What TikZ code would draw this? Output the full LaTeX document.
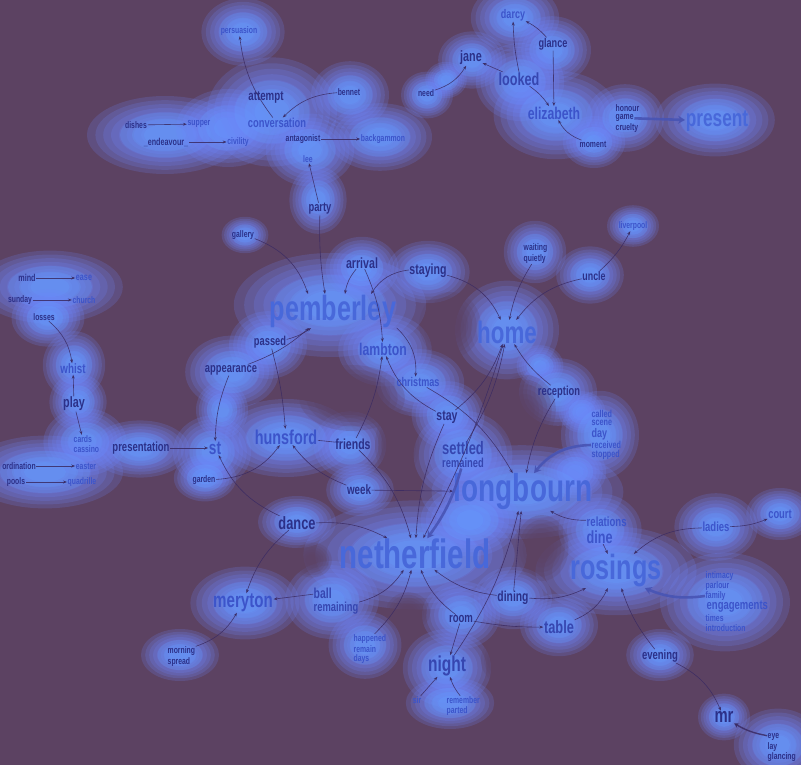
\documentclass[tikz,border=0pt]{standalone}
\usepackage{fontspec}
\newfontfamily\cf[FakeStretch=0.72]{Liberation Sans}
\usetikzlibrary{arrows.meta}
\definecolor{bgc}{RGB}{92,66,98}
\definecolor{glowA}{RGB}{110,134,252}
\definecolor{glowB}{RGB}{98,162,255}
\definecolor{cdark}{RGB}{44,48,136}
\definecolor{cmid}{RGB}{54,70,176}
\definecolor{clight}{RGB}{60,84,202}
\definecolor{cbig}{RGB}{72,104,218}
\definecolor{edgec}{RGB}{58,42,98}
\definecolor{thickc}{RGB}{72,84,180}
\newcommand\wz[1]{\fontsize{#1}{#1}\selectfont}
\newcommand\glw[4]{%
  \foreach \f in {1.3,1.16,1.03,0.9,0.77,0.64,0.52,0.4}{%
    \fill[glowA,opacity=.2] (#1,#2) ellipse [x radius={\f*#3pt}, y radius={\f*#4pt}];}%
  \foreach \f in {0.75,0.55,0.35}{%
    \fill[glowB,opacity=.22] (#1,#2) ellipse [x radius={\f*#3pt}, y radius={\f*#4pt}];}}
\newcommand\hol[4]{%
  \foreach \f in {1.1,0.95,0.8,0.65,0.5,0.35}{%
    \fill[bgc,opacity=.22] (#1,#2) ellipse [x radius={\f*#3pt}, y radius={\f*#4pt}];}}
\tikzset{
  wd/.style={text=cdark, inner sep=0.5pt, font=\cf\bfseries},
  wm/.style={text=cmid, inner sep=0.5pt, font=\cf\bfseries},
  wl/.style={text=clight, inner sep=0.5pt, font=\cf\bfseries},
  wb/.style={text=cbig, inner sep=0.5pt, font=\cf\bfseries},
  ed/.style={draw=edgec, draw opacity=.85, line width=0.6pt, -{Stealth[length=4pt,width=3pt]}},
  el/.style={draw=edgec, draw opacity=.85, line width=0.6pt},
  et/.style={draw=thickc, draw opacity=.9, line width=2.6pt, -{Stealth[length=7pt,width=8pt]}},
  et2/.style={draw=edgec, draw opacity=.85, line width=1.4pt, -{Stealth[length=5pt,width=5pt]}}
}
\begin{document}
\begin{tikzpicture}[x=1pt,y=-1pt]
\useasboundingbox (0,0) rectangle (801,765);
\fill[bgc] (0,0) rectangle (801,765);
% ---------- glow ----------
\glw{243}{32}{32}{26}
\glw{165}{135}{60}{30}
\glw{228}{128}{40}{30}
\glw{272}{112}{50}{42}
\glw{350}{95}{30}{26}
\glw{380}{137}{40}{26}
\glw{310}{150}{34}{28}
\glw{318}{200}{22}{26}
\glw{515}{18}{34}{26}
\glw{552}{50}{30}{26}
\glw{472}{60}{26}{22}
\glw{520}{82}{34}{30}
\glw{427}{95}{20}{18}
\glw{446}{80}{16}{14}
\glw{556}{115}{48}{34}
\glw{594}{142}{24}{20}
\glw{625}{118}{30}{26}
\glw{715}{120}{46}{28}
\glw{245}{235}{18}{14}
\glw{633}{226}{20}{16}
\glw{535}{252}{24}{24}
\glw{590}{275}{26}{22}
\glw{50}{287}{56}{28}
\glw{48}{318}{28}{22}
\glw{74}{365}{24}{26}
\glw{78}{402}{22}{22}
\glw{85}{442}{32}{26}
\glw{45}{472}{60}{28}
\glw{140}{449}{38}{22}
\glw{212}{452}{30}{28}
\glw{205}{478}{24}{18}
\glw{222}{410}{20}{22}
\glw{330}{305}{74}{40}
\glw{362}{268}{28}{24}
\glw{428}{272}{32}{24}
\glw{268}{345}{30}{26}
\glw{232}{372}{36}{28}
\glw{385}{350}{36}{28}
\glw{420}{383}{34}{26}
\glw{448}{415}{28}{26}
\glw{286}{438}{53}{30}
\glw{350}{445}{28}{26}
\glw{360}{490}{26}{20}
\glw{507}{330}{40}{38}
\glw{540}{366}{18}{16}
\glw{558}{392}{30}{26}
\glw{582}{412}{18}{16}
\glw{600}{435}{30}{34}
\glw{575}{472}{24}{20}
\glw{463}{455}{38}{34}
\glw{522}{492}{78}{36}
\glw{415}{555}{86}{42}
\glw{470}{520}{38}{28}
\glw{600}{530}{32}{28}
\glw{616}{571}{62}{34}
\glw{297}{522}{30}{20}
\glw{245}{603}{42}{28}
\glw{332}{600}{36}{30}
\glw{365}{645}{28}{26}
\glw{180}{655}{30}{20}
\glw{461}{615}{30}{26}
\glw{513}{598}{30}{24}
\glw{559}{625}{30}{24}
\glw{447}{668}{34}{30}
\glw{450}{703}{34}{20}
\glw{660}{655}{26}{20}
\glw{725}{602}{50}{38}
\glw{716}{527}{32}{26}
\glw{780}{514}{26}{20}
\glw{724}{717}{20}{18}
\glw{778}{745}{34}{28}
% ---------- holes ----------
\hol{542}{548}{24}{30}
\hol{525}{410}{28}{32}
\hol{352}{398}{48}{30}
\hol{397}{445}{20}{32}
\hol{450}{325}{28}{30}
\hol{312}{560}{18}{16}
\hol{408}{612}{20}{18}
\hol{505}{660}{22}{22}
% ---------- words ----------
\node[wl] (persuasion) at (239,31) {\wz{9.5}persuasion};
\node[wd] (attempt) at (266,97) {\wz{13.5}attempt};
\node[wd] (bennet) at (349,92) {\wz{9.5}bennet};
\node[wl] (conversation) at (277,123) {\wz{13}conversation};
\node[wd] (dishes) at (136,125) {\wz{9.5}dishes};
\node[wl] (supper) at (199,124) {\wz{9.5}supper};
\node[wd] (endeavour) at (166,142) {\wz{10}\_endeavour\_};
\node[wl] (civility) at (238,142) {\wz{9.5}civility};
\node[wd] (antagonist) at (303,139) {\wz{9.5}antagonist};
\node[wl] (backgammon) at (383,139) {\wz{9.5}backgammon};
\node[wl] (lee) at (308,159) {\wz{9.5}lee};
\node[wd] (party) at (320,209) {\wz{13}party};
\node[wd] (gallery) at (243,235) {\wz{9.5}gallery};
\node[wl] (darcy) at (513,15) {\wz{12.5}darcy};
\node[wd] (glance) at (553,44) {\wz{12.7}glance};
\node[wd] (jane) at (471,58) {\wz{15}jane};
\node[wm] (looked) at (519,79) {\wz{17.6}looked};
\node[wd] (need) at (426,93) {\wz{9.5}need};
\node[wl] (elizabeth) at (554,113) {\wz{17}elizabeth};
\node[wd] (moment) at (593,144) {\wz{9.5}moment};
\node[wd,anchor=west] (honour) at (615,108) {\wz{9.5}honour};
\node[wd,anchor=west] (game) at (615,118) {\wz{9.5}game};
\node[wd,anchor=west] (cruelty) at (615,128) {\wz{9.5}cruelty};
\node[wb] (present) at (717,121) {\wz{24}present};
\node[wd] (mind) at (27,278) {\wz{10}mind};
\node[wl] (ease) at (84,278) {\wz{10}ease};
\node[wd] (sunday) at (20,300) {\wz{9.5}sunday};
\node[wl] (church) at (84,300) {\wz{9.5}church};
\node[wd] (losses) at (44,317) {\wz{9.5}losses};
\node[wl] (whist) at (73,369) {\wz{13.6}whist};
\node[wd] (play) at (74,404) {\wz{15}play};
\node[wl,anchor=west] (cards) at (73,439) {\wz{9.5}cards};
\node[wl,anchor=west] (cassino) at (73,449) {\wz{9.5}cassino};
\node[wd] (presentation) at (141,448) {\wz{13.2}presentation};
\node[wl] (st) at (215,448) {\wz{19}st};
\node[wd] (ordination) at (19,466) {\wz{9.5}ordination};
\node[wl] (easter) at (86,466) {\wz{9.5}easter};
\node[wd] (pools) at (16,482) {\wz{9.5}pools};
\node[wl] (quadrille) at (82,482) {\wz{9.5}quadrille};
\node[wd] (garden) at (204,480) {\wz{9.5}garden};
\node[wb] (pemberley) at (333,311) {\wz{35}pemberley};
\node[wd] (arrival) at (362,263) {\wz{14.8}arrival};
\node[wd] (staying) at (428,271) {\wz{14.7}staying};
\node[wd] (passed) at (270,342) {\wz{12.9}passed};
\node[wd] (appearance) at (231,370) {\wz{13}appearance};
\node[wl] (lambton) at (383,349) {\wz{17}lambton};
\node[wl] (christmas) at (418,382) {\wz{12.6}christmas};
\node[wd] (stay) at (447,417) {\wz{14.6}stay};
\node[wl] (hunsford) at (286,437) {\wz{20}hunsford};
\node[wd] (friends) at (353,444) {\wz{14.6}friends};
\node[wm] (settled) at (463,448) {\wz{18}settled};
\node[wm] (remained) at (463,463) {\wz{13}remained};
\node[wb] (home) at (507,332) {\wz{31}home};
\node[wd,anchor=west] (waiting) at (523,248) {\wz{9.5}waiting};
\node[wd,anchor=west] (quietly) at (523,259) {\wz{9.5}quietly};
\node[wd] (uncle) at (594,276) {\wz{12.3}uncle};
\node[wl] (liverpool) at (633,226) {\wz{9.5}liverpool};
\node[wd] (reception) at (559,392) {\wz{13}reception};
\node[wl,anchor=west] (called) at (591,413.5) {\wz{10}called};
\node[wl,anchor=west] (scene) at (591,423) {\wz{10}scene};
\node[wl,anchor=west] (day) at (591,434.5) {\wz{12.5}day};
\node[wl,anchor=west] (received) at (591,445) {\wz{10}received};
\node[wl,anchor=west] (stopped) at (591,455) {\wz{10}stopped};
\node[wb] (longbourn) at (523,492) {\wz{38.8}longbourn};
\node[wb] (netherfield) at (415,554) {\wz{41}netherfield};
\node[wb] (rosings) at (616,571) {\wz{35}rosings};
\node[wd] (week) at (359,490) {\wz{13.6}week};
\node[wd] (dance) at (297,523) {\wz{17.8}dance};
\node[wl] (meryton) at (243,603) {\wz{21}meryton};
\node[wm,anchor=west] (ball) at (313,593) {\wz{14.5}ball};
\node[wm,anchor=west] (remaining) at (313,608) {\wz{13}remaining};
\node[wl,anchor=west] (happened) at (353,639) {\wz{9.5}happened};
\node[wl,anchor=west] (remain) at (353,649) {\wz{9.5}remain};
\node[wl,anchor=west] (days) at (353,659) {\wz{9.5}days};
\node[wd,anchor=west] (morning) at (167,651) {\wz{9.5}morning};
\node[wd,anchor=west] (spread) at (167,662) {\wz{9.5}spread};
\node[wd] (room) at (461,619) {\wz{13.3}room};
\node[wm] (night) at (447,666) {\wz{21.6}night};
\node[wl] (sir) at (417,700) {\wz{9.5}sir};
\node[wl,anchor=west] (remember) at (446,700) {\wz{9.5}remember};
\node[wl,anchor=west] (parted) at (446,711) {\wz{9.5}parted};
\node[wl,anchor=west] (relations) at (586,522) {\wz{13.3}relations};
\node[wl,anchor=west] (dine) at (586,537) {\wz{17.6}dine};
\node[wl] (ladies) at (716,527) {\wz{13.2}ladies};
\node[wl] (court) at (780,514) {\wz{13}court};
\node[wl,anchor=west] (intimacy) at (705,576) {\wz{9.5}intimacy};
\node[wl,anchor=west] (parlour) at (705,586) {\wz{9.5}parlour};
\node[wl,anchor=west] (family) at (705,596) {\wz{9.5}family};
\node[wl,anchor=west] (engagements) at (706,607) {\wz{13.2}engagements};
\node[wl,anchor=west] (times) at (705,618) {\wz{9.5}times};
\node[wl,anchor=west] (introduction) at (705,628) {\wz{9.5}introduction};
\node[wd] (dining) at (513,598) {\wz{14.4}dining};
\node[wm] (table) at (559,627) {\wz{17.8}table};
\node[wd] (evening) at (660,656) {\wz{13.2}evening};
\node[wd] (mr) at (724,717) {\wz{20.6}mr};
\node[wd,anchor=west] (eye) at (767,737) {\wz{9.5}eye};
\node[wd,anchor=west] (lay) at (767,747) {\wz{9.5}lay};
\node[wd,anchor=west] (glancing) at (767,757) {\wz{9.5}glancing};
% ---------- connectors ----------
\draw[ed] (conversation) to[bend left=15] (persuasion);
\draw[ed] (bennet) to[bend right=20] (conversation);
\draw[ed] (dishes) -- (supper);
\draw[ed] (endeavour) -- (civility);
\draw[ed] (antagonist) -- (backgammon);
\draw[ed] (party) -- (lee);
\draw[ed] (party) to[bend right=5] ([xshift=-8pt]pemberley.north);
\draw[ed] (gallery) to[bend left=25] ([xshift=-25pt]pemberley.north);
\draw[ed] (glance) to[bend right=10] (darcy);
\draw[ed] (looked.north) to[bend left=5] (darcy);
\draw[ed] (looked) -- (jane);
\draw[ed] (need) to[bend right=20] (jane);
\draw[ed] (looked) to[bend left=10] (elizabeth);
\draw[ed] (glance) -- (elizabeth);
\draw[ed] (moment) to[bend left=20] (elizabeth);
\draw[et] (game) -- (present);
\draw[ed] (arrival) to[bend right=15] ([xshift=12pt]pemberley.north);
\draw[ed] (arrival) to[bend left=10] (lambton);
\draw[ed] (staying) to[bend right=25] ([xshift=38pt]pemberley.north);
\draw[ed] (staying) to[bend left=25] (home);
\draw[ed] (quietly) to[bend right=10] (home);
\draw[ed] (uncle) to[bend right=20] (home);
\draw[ed] (uncle) to[bend right=10] (liverpool);
\draw[ed] (passed) to[bend right=10] ([xshift=-22pt]pemberley.south);
\draw[ed] (appearance) to[bend right=10] ([xshift=-24pt]pemberley.south);
\draw[ed] (passed) to[bend left=5] (hunsford);
\draw[ed] (appearance) to[bend right=10] (st);
\draw[ed] (presentation) -- (st);
\draw[ed] (garden) to[bend right=25] (hunsford);
\draw[ed] (dance) to[bend left=20] (st);
\draw[el] (hunsford) -- (friends);
\draw[ed] (friends) to[bend right=10] (lambton);
\draw[ed] (friends) to[bend left=15] (netherfield);
\draw[ed] (week) to[bend left=15] (hunsford);
\draw[ed] (week) -- (longbourn);
\draw[ed] (stay) to[bend left=20] (lambton);
\draw[ed] (stay) to[bend right=10] (netherfield);
\draw[ed] (stay) to[bend right=15] (home);
\draw[ed] (settled) to[bend right=10] (home);
\draw[et] (remained) to[bend left=10] (netherfield);
\draw[ed] (home) to[bend left=5] (netherfield);
\draw[ed] (christmas) to[bend left=15] (longbourn);
\draw[ed] (pemberley) to[bend left=25] (christmas);
\draw[ed] (reception) to[bend left=10] (home);
\draw[ed] (reception) to[bend right=10] (longbourn);
\draw[et] (received.west) to[bend right=25] (longbourn);
\draw[ed] (relations) to[bend left=15] (longbourn);
\draw[ed] (dine) -- (rosings);
\draw[ed] (ladies) to[bend right=20] (rosings);
\draw[ed] (ladies) to[bend right=10] (court);
\draw[et] (family.west) to[bend left=15] (rosings);
\draw[ed] (dining) to[bend right=15] (rosings);
\draw[ed] (dining) to[bend left=15] (netherfield);
\draw[ed] (dining) -- (longbourn);
\draw[ed] (night) to[bend right=10] (longbourn);
\draw[ed] (room) to[bend right=5] (table);
\draw[ed] (room) to[bend left=15] (netherfield);
\draw[ed] (table) to[bend right=20] (rosings);
\draw[ed] (evening) to[bend left=10] (rosings);
\draw[ed] (evening) to[bend left=20] (mr);
\draw[et2] (eye) to[bend left=10] (mr);
\draw[ed] (room) -- (night);
\draw[ed] (sir) -- (night);
\draw[ed] (remember) to[bend left=10] (night);
\draw[ed] (dance) to[bend left=15] (netherfield);
\draw[ed] (dance) to[bend right=15] (meryton);
\draw[ed] (ball) -- (meryton);
\draw[ed] (remaining) to[bend right=20] (netherfield);
\draw[ed] (happened) to[bend right=15] (netherfield);
\draw[ed] (morning) to[bend right=20] (meryton);
\draw[ed] (losses) to[bend left=20] (whist);
\draw[ed] (play) -- (whist);
\draw[ed] (play) -- (cards);
\draw[ed] (mind) -- (ease);
\draw[ed] (sunday) -- (church);
\draw[ed] (ordination) -- (easter);
\draw[ed] (pools) -- (quadrille);
\end{tikzpicture}
\end{document}
